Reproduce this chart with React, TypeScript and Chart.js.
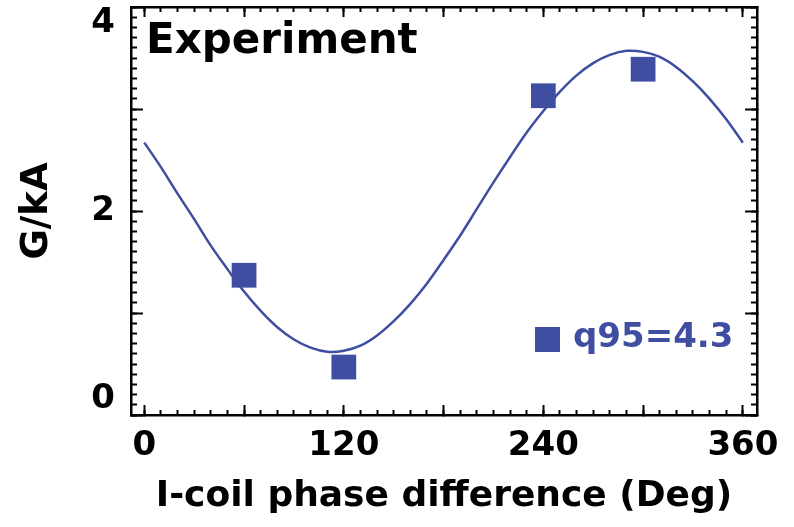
import React, { useEffect, useRef } from 'react';
import { Chart, registerables } from 'chart.js';

Chart.register(...registerables);

// Fitted curve (degrees, G/kA)
const fitDeg = [0, 10, 20, 30, 40, 50, 60, 70, 80, 90, 100, 110, 120, 130, 140, 150, 160, 170, 180,
  190, 200, 210, 220, 230, 240, 250, 260, 270, 280, 290, 300, 310, 320, 330, 340, 350, 360];
const fitVal = [2.67, 2.43, 2.17, 1.92, 1.66, 1.43, 1.21, 1.02, 0.86, 0.74, 0.66, 0.62, 0.63, 0.68, 0.78,
  0.92, 1.09, 1.29, 1.52, 1.76, 2.02, 2.28, 2.53, 2.77, 2.98, 3.17, 3.33, 3.45, 3.53, 3.57, 3.56, 3.51,
  3.41, 3.27, 3.10, 2.90, 2.67];

// Measured points
const sampleDeg = [60, 120, 240, 300];
const sampleVal = [1.37, 0.47, 3.13, 3.39];

const xTickLabels = [0, 120, 240, 360];
const yTickLabels = [0, 2, 4];
const seriesLabel = 'q95=4.3';
const panelLabel = 'Experiment';
const xTitle = 'I-coil phase difference (Deg)';
const yTitle = 'G/kA';

const BLUE = '#3f4ea0';
const FONT = "'DejaVu Sans', 'Liberation Sans', sans-serif";
const X_MIN = -8;
const X_MAX = 368.5;
const Y_MIN = 0;
const Y_MAX = 4;

function fixSize(w: number | null, h: number | null) {
  return (s: any) => {
    if (w !== null) s.width = w;
    if (h !== null) s.height = h;
    s.paddingLeft = 0;
    s.paddingRight = 0;
    s.paddingTop = 0;
    s.paddingBottom = 0;
  };
}

function markAxis(position: string, horizontal: boolean, step: number, len: number, border: boolean) {
  return {
    type: 'linear',
    position,
    min: horizontal ? X_MIN : Y_MIN,
    max: horizontal ? X_MAX : Y_MAX,
    weight: border ? 1 : 0,
    afterFit: horizontal ? fixSize(null, 0) : fixSize(0, null),
    border: { display: border, width: 2.5, color: '#000' },
    grid: { display: true, drawOnChartArea: false, drawTicks: true, tickLength: -len, tickWidth: 2, tickColor: '#000' },
    ticks: { display: false, stepSize: step, includeBounds: false, autoSkip: false },
  };
}

export default function App() {
  const canvasRef = useRef<HTMLCanvasElement | null>(null);

  useEffect(() => {
    if (!canvasRef.current) return;
    Chart.defaults.color = '#000';
    Chart.defaults.font.family = FONT;
    const chart = new Chart(canvasRef.current, {
      type: 'scatter',
      data: {
        datasets: [
          {
            label: 'fit',
            data: fitDeg.map((d, i) => ({ x: d, y: fitVal[i] })),
            showLine: true,
            borderColor: BLUE,
            borderWidth: 2.5,
            pointRadius: 0,
            tension: 0.4,
            xAxisID: 'x',
            yAxisID: 'y',
          },
          {
            label: seriesLabel,
            data: sampleDeg.map((d, i) => ({ x: d, y: sampleVal[i] })),
            showLine: false,
            pointStyle: 'rect',
            pointRadius: 17.5,
            pointHoverRadius: 17.5,
            pointBorderWidth: 0,
            pointBackgroundColor: BLUE,
            pointBorderColor: BLUE,
            xAxisID: 'x',
            yAxisID: 'y',
          },
        ],
      },
      options: {
        responsive: false,
        animation: false,
        devicePixelRatio: 1,
        events: [],
        layout: { autoPadding: false, padding: { left: 0, top: 7, right: 37, bottom: 0 } },
        plugins: { legend: { display: false }, tooltip: { enabled: false }, title: { display: false } },
        scales: {
          x: {
            type: 'linear',
            position: 'bottom',
            min: X_MIN,
            max: X_MAX,
            weight: 1,
            afterFit: fixSize(null, 112),
            border: { display: true, width: 2.5, color: '#000' },
            grid: { display: true, drawOnChartArea: false, drawTicks: true, tickLength: -10, tickWidth: 2, tickColor: '#000' },
            ticks: {
              stepSize: 60,
              includeBounds: false,
              autoSkip: false,
              maxRotation: 0,
              padding: 21,
              color: '#000',
              font: { family: FONT, size: 34, weight: 'bold' },
              callback: (v: any) => (xTickLabels.includes(Number(v)) ? String(v) : ''),
            },
            title: {
              display: true,
              text: xTitle,
              color: '#000',
              font: { family: FONT, size: 36, weight: 'bold' },
              padding: { top: 0, bottom: 9 },
            },
          },
          xMinor: markAxis('bottom', true, 10, 5, false),
          xTop: markAxis('top', true, 60, 10, true),
          xTopMinor: markAxis('top', true, 10, 5, false),
          y: {
            type: 'linear',
            position: 'left',
            min: Y_MIN,
            max: Y_MAX,
            weight: 1,
            afterFit: fixSize(131, null),
            border: { display: true, width: 2.5, color: '#000' },
            grid: { display: true, drawOnChartArea: false, drawTicks: true, tickLength: -12, tickWidth: 2, tickColor: '#000' },
            ticks: {
              stepSize: 1,
              includeBounds: false,
              autoSkip: false,
              padding: 28,
              color: '#000',
              font: { family: FONT, size: 34, weight: 'bold', lineHeight: 0.95 },
              callback: (v: any) => {
                const n = Number(v);
                if (!yTickLabels.includes(n)) return '';
                if (n === Y_MIN) return [String(n), ''];
                if (n === Y_MAX) return ['', String(n)];
                return String(n);
              },
            },
            title: {
              display: true,
              text: yTitle,
              color: '#000',
              font: { family: FONT, size: 37, weight: 'bold' },
              padding: { top: 15, bottom: 0 },
            },
          },
          yMinor: markAxis('left', false, 0.1, 6, false),
          yRight: markAxis('right', false, 1, 12, true),
          yRightMinor: markAxis('right', false, 0.1, 6, false),
        },
      } as any,
    });
    return () => chart.destroy();
  }, []);

  return (
    <div style={{ position: 'absolute', left: 0, top: 0, width: 794, height: 527, background: '#fff' }}>
      <canvas ref={canvasRef} width={794} height={527} style={{ display: 'block', width: 794, height: 527 }} />
      <div
        style={{
          position: 'absolute', left: 146, top: 18, fontFamily: FONT, fontWeight: 'bold',
          fontSize: 42, lineHeight: '42px', color: '#000', whiteSpace: 'nowrap',
        }}
      >
        {panelLabel}
      </div>
      <div style={{ position: 'absolute', left: 535, top: 327, width: 25, height: 25, background: BLUE }} />
      <div
        style={{
          position: 'absolute', left: 573, top: 318, fontFamily: FONT, fontWeight: 'bold',
          fontSize: 34, lineHeight: '34px', color: BLUE, whiteSpace: 'nowrap',
        }}
      >
        {seriesLabel}
      </div>
    </div>
  );
}
